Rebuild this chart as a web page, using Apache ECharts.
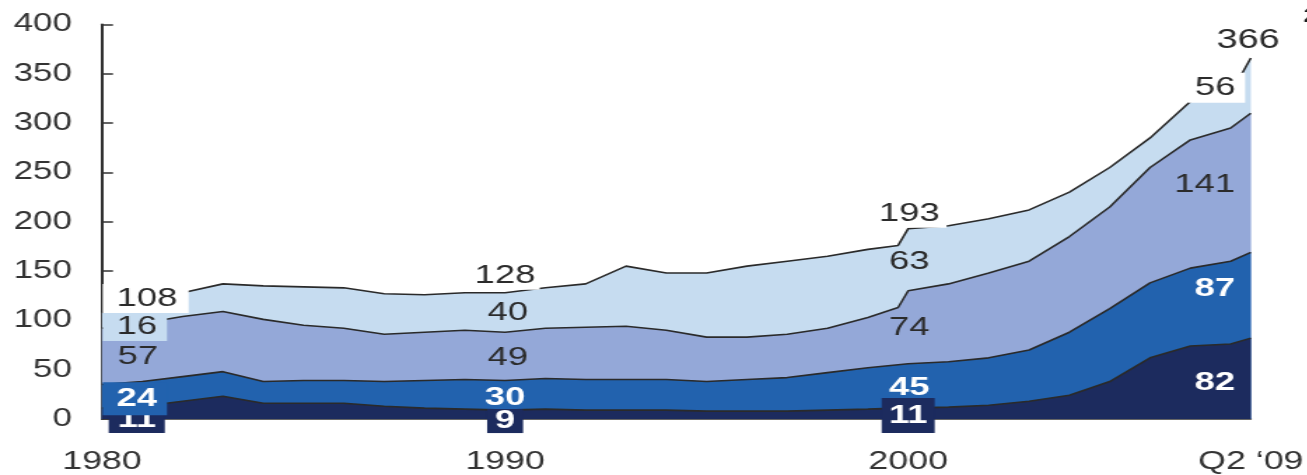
<!DOCTYPE html>
<html>
<head>
<meta charset="utf-8">
<script src="https://cdn.jsdelivr.net/npm/echarts@6/dist/echarts.min.js"></script>
<style>
  html, body { margin: 0; padding: 0; background: #fff; overflow: hidden; }
  /* the chart is drawn narrow and widened, which gives the broad lettering */
  #chart { width: 934px; height: 475px; transform: scaleX(1.4); transform-origin: 0 0; }
</style>
</head>
<body>
<div id="chart"></div>
<script>
// Year-end positions; the last point is Q2 '09, half a year after end-2008.
const YEARS = [1980, 1981, 1982, 1983, 1984, 1985, 1986, 1987, 1988, 1989,
               1990, 1991, 1992, 1993, 1994, 1995, 1996, 1997, 1998, 1999,
               1999.75, 2000, 2001, 2002, 2003, 2004, 2005, 2006, 2007, 2008, 2008.5];

// Layers, bottom to top
const NAVY  = [11, 13, 18, 23, 16, 16, 16, 13, 11, 10,  9, 10,  9,  9,  9,  8,  8,  8,  9, 10, 11, 11, 12, 14, 18, 24, 38, 62, 74, 76, 82];
const MID   = [24, 25, 25, 25, 22, 23, 23, 25, 28, 30, 30, 31, 31, 31, 31, 30, 32, 34, 38, 42, 44, 45, 46, 48, 52, 64, 74, 76, 79, 84, 87];
const PERI  = [57, 59, 61, 61, 63, 56, 53, 48, 49, 50, 49, 51, 53, 54, 50, 45, 43, 44, 45, 51, 58, 74, 79, 86, 90, 97, 103, 117, 130, 135, 141];
const LIGHT = [16, 21, 24, 28, 34, 39, 41, 41, 38, 38, 40, 41, 44, 61, 58, 65, 72, 74, 73, 69, 63, 63, 59, 55, 52, 45, 40, 30, 39, 35, 56];

const LAYERS = [NAVY, MID, PERI, LIGHT];
const LAYER_NAMES = ['Layer 1', 'Layer 2', 'Layer 3', 'Layer 4'];
const LAYER_COLORS = ['#1c2b5e', '#2262ae', '#94a8d8', '#c6dcf0'];

// Points that carry value labels: 1980, 1990, 2000, Q2 '09
const LABEL_POINTS = [0, 10, 21, 30];

const SX = 1.4;                 // horizontal widening of the drawing
const px = v => v / SX;         // horizontal length in drawing units
const FONT = "'Liberation Sans', Arial, sans-serif";
const LIFT = 2;                 // common vertical nudge for value labels

// running totals: top edge of each layer
const CUM = LAYERS.map((arr, k) => arr.map((_, i) => {
  let s = 0;
  for (let j = 0; j <= k; j++) s += LAYERS[j][i];
  return s;
}));
function bandMid(layer, i) { return CUM[layer][i] - LAYERS[layer][i] / 2; }

const DARK = { color: '#2b2b2b', fontSize: 26, fontFamily: FONT };
const WHITE = { color: '#ffffff', fontSize: 26, fontWeight: 'bold', fontFamily: FONT };

// Label placement, lower layers first so upper boxes sit over them
const LABEL_SPECS = [
  // 1980
  { p: 0, layer: 0, pos: 'right', dist: px(6), dy: 4.5, txt: WHITE, bg: LAYER_COLORS[0], padding: [0, 6.3, 4, 6.3], lh: 22 },
  { p: 0, layer: 1, pos: 'right', dist: 0, dy: 0.5, txt: WHITE, bg: LAYER_COLORS[1], padding: [4, 7, 4, 10], lh: 25 },
  { p: 0, layer: 2, pos: 'right', dist: px(15), dy: -1.3, txt: DARK },
  { p: 0, layer: 3, pos: 'right', dist: 0, dy: 4.5, txt: DARK, bg: LAYER_COLORS[3], padding: [2, 7, 1, 10], lh: 25 },
  { p: 0, layer: 4, pos: 'right', dist: 0, dy: -16, txt: DARK, bg: '#ffffff', padding: [2, 8, 2, 10], lh: 25 },
  // 1990
  { p: 1, layer: 0, pos: 'inside', dy: 4.5, txt: WHITE, bg: LAYER_COLORS[0], padding: [1, 5.6, 1, 5.6], lh: 22 },
  { p: 1, layer: 1, pos: 'inside', dy: 0, txt: WHITE },
  { p: 1, layer: 2, pos: 'inside', dx: 2, dy: -1, txt: DARK },
  { p: 1, layer: 3, pos: 'inside', dx: 2, dy: -2, txt: DARK },
  { p: 1, layer: 4, pos: 'inside', dy: -18.5, txt: DARK, bg: '#ffffff', padding: [1, 3, 1, 3], lh: 25 },
  // 2000
  { p: 2, layer: 0, pos: 'inside', dy: 0, txt: WHITE, bg: LAYER_COLORS[0], padding: [5, 5.2, 5, 5.2], lh: 25 },
  { p: 2, layer: 1, pos: 'inside', dx: 0.7, dy: 0, txt: WHITE },
  { p: 2, layer: 2, pos: 'inside', dx: 0.7, dy: -1.5, txt: DARK },
  { p: 2, layer: 3, pos: 'inside', dx: 0.7, dy: 0, txt: DARK },
  { p: 2, layer: 4, pos: 'inside', dx: 0.7, dy: -17, txt: DARK, bg: '#ffffff', padding: [2, 5, 1, 5], lh: 25 },
  // Q2 '09
  { p: 3, layer: 0, pos: 'left', dist: px(15), dy: 2.3, txt: WHITE },
  { p: 3, layer: 1, pos: 'left', dist: px(15), dy: -8, txt: WHITE },
  { p: 3, layer: 2, pos: 'left', dist: px(15), dy: 0, txt: DARK },
  { p: 3, layer: 3, pos: 'left', dist: px(5), dy: 0, txt: DARK, bg: '#ffffff', padding: [3, 7, 2, 5], lh: 25 },
  { p: 3, layer: 4, pos: 'inside', dx: -2, dy: -19, txt: Object.assign({}, DARK, { fontSize: 27 }) }
];

const labelData = LABEL_SPECS.map(s => {
  const i = LABEL_POINTS[s.p];
  const isTotal = s.layer === 4;
  const shown = isTotal ? CUM[3][i] : LAYERS[s.layer][i];
  const anchorY = isTotal ? CUM[3][i] : bandMid(s.layer, i);
  const label = Object.assign({
    show: true,
    opacity: 1,
    position: s.pos,
    distance: s.dist || 0,
    offset: [s.dx || 0, (s.dy || 0) + LIFT],
    formatter: p => String(p.value[2])
  }, s.txt);
  if (s.bg) {
    label.backgroundColor = s.bg;
    label.padding = s.padding;
    label.lineHeight = s.lh;
  }
  return { value: [YEARS[i], anchorY, shown], label: label };
});

// Each layer is filled from the axis up to its running total; drawn top layer
// first so every lower band and its edge line sit on top.
const areaSeries = [3, 2, 1, 0].map(k => ({
  name: LAYER_NAMES[k],
  type: 'line',
  data: YEARS.map((x, i) => [x, CUM[k][i]]),
  showSymbol: false,
  smooth: false,
  lineStyle: { color: '#2a2a2a', width: 1.6 },
  areaStyle: { color: LAYER_COLORS[k], opacity: 1 },
  emphasis: { disabled: true },
  silent: true
}));

const chart = echarts.init(document.getElementById('chart'), null, { renderer: 'canvas' });
chart.setOption({
  animation: false,
  backgroundColor: '#ffffff',
  title: {
    text: '2',
    left: 926, top: 1,
    textStyle: { fontSize: 21, fontWeight: 'bold', color: '#1e1e1e', fontFamily: FONT }
  },
  grid: { left: px(102), right: 934 - px(1255), top: 24.5, bottom: 52, containLabel: false },
  xAxis: {
    type: 'value',
    min: 1980, max: 2008.5, interval: 10,
    axisLine: { show: true, lineStyle: { color: '#333', width: 1.5 } },
    axisTick: { show: false },
    splitLine: { show: false },
    axisLabel: {
      showMinLabel: true, showMaxLabel: true,
      margin: 30,
      fontSize: 25.5, color: '#333', fontFamily: FONT,
      formatter: v => (v === 2008.5 ? 'Q2 \u201809' : String(v))
    }
  },
  yAxis: {
    type: 'value',
    min: 0, max: 400, interval: 50,
    axisLine: { show: true, lineStyle: { color: '#333', width: 2 } },
    axisTick: { show: true, inside: true, length: px(11), lineStyle: { color: '#333', width: 1.5 } },
    splitLine: { show: false },
    axisLabel: { margin: px(30), fontSize: 25, color: '#333', fontFamily: FONT }
  },
  series: areaSeries.concat([{
    type: 'scatter',
    z: 20,
    clip: false,
    silent: true,
    symbol: 'circle',
    symbolSize: 1,
    itemStyle: { color: 'rgba(0,0,0,0)', opacity: 1 },
    emphasis: { disabled: true },
    data: labelData
  }])
});
</script>
</body>
</html>
